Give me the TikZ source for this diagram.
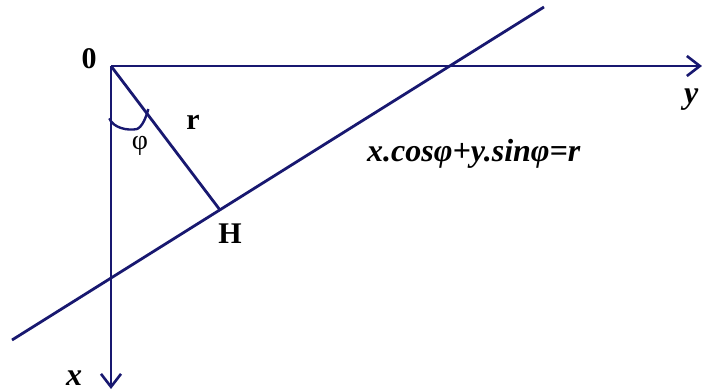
\documentclass[tikz,border=0pt]{standalone}
\usepackage{fontspec}
\setmainfont{Liberation Serif}
\usetikzlibrary{arrows.meta}
\definecolor{navy}{RGB}{24,24,112}
\begin{document}
\begin{tikzpicture}[x=1pt,y=-1pt,
  ln/.style={draw=navy,line width=2.8pt},
  axis/.style={ln,-{Straight Barb[length=13pt,width=20pt,line width=2.6pt]}},
  lbl/.style={inner sep=0pt,font=\fontsize{30}{36}\selectfont}]
\useasboundingbox (0,0) rectangle (702,391);
\coordinate (O) at (111,66);
\coordinate (Yend) at (702,66);
\coordinate (Xend) at (111,389);
\coordinate (L1) at (12,340);
\coordinate (L2) at (544,7);
\coordinate (H) at (220,210);
\coordinate (A1) at (109.3,118.3);
\coordinate (A2) at (148.3,109);
\draw[axis] (O) -- (Yend);
\draw[axis] (O) -- (Xend);
\draw[ln] (L1) -- (L2);
\draw[ln] (O) -- (H);
\draw[ln,line width=2.4pt] (A1) .. controls (113,128) and (128,131) .. (137,129) .. controls (142,127) and (146,118) .. (A2);
\node[lbl,anchor=base,font=\fontsize{30}{36}\selectfont\bfseries] (n0) at (89,68) {0};
\node[lbl,anchor=base,font=\fontsize{30}{36}\selectfont\bfseries] (nr) at (193,129.3) {r};
\node[lbl,anchor=center,font=\fontsize{28}{34}\selectfont] (nphi) at (140,146) {φ};
\node[lbl,anchor=base,font=\fontsize{30}{36}\selectfont\bfseries] (nH) at (230,243) {H};
\node[lbl,anchor=base west,font=\fontsize{32}{38}\selectfont\bfseries\itshape] (eq) at (367,161) {x.cosφ+y.sinφ=r};
\node[lbl,anchor=base west,font=\fontsize{32}{38}\selectfont\bfseries\itshape] (ny) at (684,103) {y};
\node[lbl,anchor=base,font=\fontsize{32}{38}\selectfont\bfseries\itshape] (nx) at (74,385) {x};
\end{tikzpicture}
\end{document}
